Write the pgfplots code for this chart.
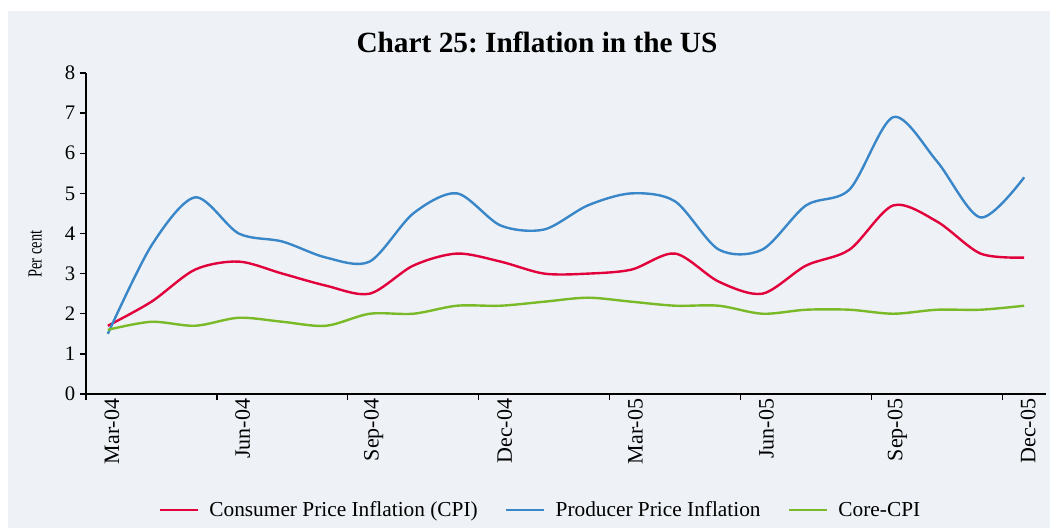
\documentclass[border=0pt]{standalone}
\usepackage{pgfplots}
\pgfplotsset{compat=1.18}
\usepackage{fontspec}
\setmainfont{Liberation Serif}
\frenchspacing

\definecolor{bgc}{RGB}{238,242,246}
\definecolor{cpired}{RGB}{226,0,60}
\definecolor{ppiblue}{RGB}{57,134,200}
\definecolor{coregreen}{RGB}{122,185,40}

\begin{document}
\begin{tikzpicture}
% page and panel background (1 px = 0.75 pt, origin at the axis corner)
\fill[white] (-64.5pt,-102pt) rectangle (723pt,295.5pt);
\fill[bgc] (-58.5pt,-100.5pt) rectangle (723pt,287.25pt);

\begin{axis}[
    at={(0pt,0pt)}, anchor=south west,
    scale only axis,
    width=720pt, height=240.75pt,
    xmin=-0.5, xmax=21.5,
    ymin=0, ymax=8,
    axis x line=bottom, axis y line=left,
    axis line style={-, line width=1pt},
    tick style={black, line width=1pt},
    tick align=outside,
    major tick length=4.5pt,
    ytick={0,1,...,8},
    yticklabel style={font=\fontsize{15.5}{17}\selectfont},
    /pgf/number format/assume math mode=true,
    xtick={-0.5,2.5,5.5,8.5,11.5,14.5,17.5,20.5},
    xticklabels={},
    extra x ticks={0,3,6,9,12,15,18,21},
    extra x tick labels={Mar-04,Jun-04,Sep-04,Dec-04,Mar-05,Jun-05,Sep-05,Dec-05},
    extra x tick style={major tick length=0pt,
        xticklabel style={rotate=90, anchor=east, font=\fontsize{16.5}{18}\selectfont, yshift=-3pt}},
    ylabel={\scalebox{0.72}[1]{Per cent}},
    ylabel style={at={(axis description cs:-0.053,0.436)}, anchor=center,
        font=\fontsize{15}{17}\selectfont},
    legend columns=3,
    legend style={at={(axis description cs:0.4735,-0.3614)}, anchor=center,
        draw=none, fill=none, font=\fontsize{16}{18}\selectfont,
        /tikz/every even column/.append style={column sep=18pt}},
    legend image code/.code={\draw[#1, line width=2pt] (0pt,0pt) -- (28.5pt,0pt);
        \path (34.5pt,0pt);},
    every axis plot/.append style={line width=1.8pt, smooth, tension=0.5},
]
\addplot[color=cpired] coordinates {
    (0,1.7) (1,2.3) (2,3.1) (3,3.3) (4,3.0) (5,2.7) (6,2.5) (7,3.2)
    (8,3.5) (9,3.3) (10,3.0) (11,3.0) (12,3.1) (13,3.5) (14,2.8) (15,2.5)
    (16,3.2) (17,3.6) (18,4.7) (19,4.3) (20,3.5) (21,3.4)
};
\addplot[color=ppiblue] coordinates {
    (0,1.5) (1,3.7) (2,4.9) (3,4.0) (4,3.8) (5,3.4) (6,3.3) (7,4.5)
    (8,5.0) (9,4.2) (10,4.1) (11,4.7) (12,5.0) (13,4.8) (14,3.6) (15,3.6)
    (16,4.7) (17,5.1) (18,6.9) (19,5.8) (20,4.4) (21,5.4)
};
\addplot[color=coregreen] coordinates {
    (0,1.6) (1,1.8) (2,1.7) (3,1.9) (4,1.8) (5,1.7) (6,2.0) (7,2.0)
    (8,2.2) (9,2.2) (10,2.3) (11,2.4) (12,2.3) (13,2.2) (14,2.2) (15,2.0)
    (16,2.1) (17,2.1) (18,2.0) (19,2.1) (20,2.1) (21,2.2)
};
\legend{Consumer Price Inflation (CPI), Producer Price Inflation, Core-CPI}
\end{axis}

\node[font=\fontsize{22}{26}\selectfont\bfseries] at (338.25pt,264pt) {Chart 25: Inflation in the US};

\pgfresetboundingbox
\useasboundingbox (-64.5pt,-102pt) rectangle (723pt,295.5pt);
\end{tikzpicture}
\end{document}
